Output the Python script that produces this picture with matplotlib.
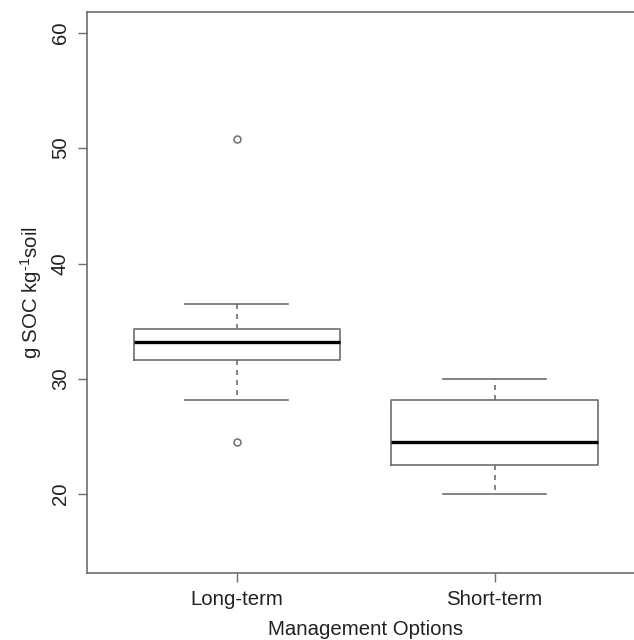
import matplotlib
matplotlib.use("Agg")
import matplotlib.pyplot as plt

plt.rcParams['font.family'] = ['Liberation Sans', 'DejaVu Sans']
plt.rcParams['mathtext.fontset'] = 'custom'
plt.rcParams['mathtext.rm'] = 'Liberation Sans'
plt.rcParams['mathtext.it'] = 'Liberation Sans'

# box summary values
groups = ["Long-term", "Short-term"]
medians = [33.2, 24.5]
q1 = [31.6, 22.5]
q3 = [34.3, 28.2]
whis_lo = [28.2, 20.0]
whis_hi = [36.5, 30.0]
outliers = [[50.8, 24.5], []]

yticks = [20, 30, 40, 50, 60]

gray = '#6e6e6e'
txt = '#222222'

stats = []
for i in range(len(groups)):
    stats.append({"label": groups[i], "med": medians[i], "q1": q1[i], "q3": q3[i],
                  "whislo": whis_lo[i], "whishi": whis_hi[i], "fliers": outliers[i]})

fig = plt.figure(figsize=(6.34, 6.4), dpi=100)
# frame runs past the right edge, as in the (cropped) original
ax = fig.add_axes([87.3 / 634, 1 - 572.7 / 640, (644 - 87.3) / 634, 560.7 / 640])

ax.bxp(stats, positions=[1, 2], widths=0.8, capwidths=0.4,
       boxprops=dict(color=gray, linewidth=1.2),
       medianprops=dict(color='black', linewidth=2.4),
       whiskerprops=dict(color=gray, linewidth=1.2, linestyle=(0, (3, 3))),
       capprops=dict(color=gray, linewidth=1.2),
       flierprops=dict(marker='o', markerfacecolor='none', markeredgecolor=gray,
                       markersize=5, markeredgewidth=1.1))

ax.set_xlim(0.42, 2.58)
ax.set_ylim(13.2, 61.8)
ax.set_yticks(yticks)
ax.set_xticks([1, 2])
ax.set_xticklabels(groups)
for lbl in ax.get_yticklabels():
    lbl.set_rotation(90)
    lbl.set_va('center')

for sp in ax.spines.values():
    sp.set_color(gray)
    sp.set_linewidth(1.2)

ax.tick_params(axis='both', colors=gray, labelcolor=txt, labelsize=14.7,
               length=6.5, width=1.0)
ax.tick_params(axis='y', pad=6)
ax.tick_params(axis='x', pad=6)

ax.set_xlabel("Management Options", fontsize=14.7, color=txt, labelpad=8)
ax.set_ylabel("g SOC kg$^{\\text{-1}}$soil", fontsize=14.7, color=txt, labelpad=5)

fig.savefig("out.png", dpi=100)
